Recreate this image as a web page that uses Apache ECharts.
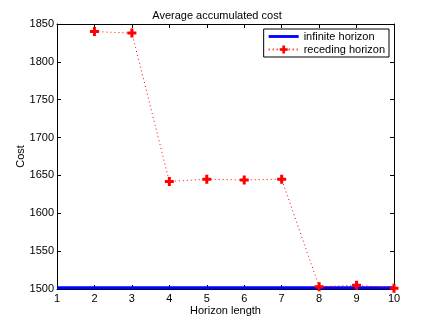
<!DOCTYPE html>
<html>
<head>
<meta charset="utf-8">
<script src="https://cdn.jsdelivr.net/npm/echarts@6/dist/echarts.min.js"></script>
<style>
  html, body { margin: 0; padding: 0; background: #fff; }
  #chart { width: 434px; height: 326px; }
</style>
</head>
<body>
<div id="chart"></div>
<script>
// horizon lengths on the x axis
var horizons = [1, 2, 3, 4, 5, 6, 7, 8, 9, 10];
// infinite horizon cost (flat)
var infiniteCost = [1501.5, 1501.5, 1501.5, 1501.5, 1501.5, 1501.5, 1501.5, 1501.5, 1501.5, 1501.5];
// receding horizon cost, starts at horizon 2
var recedingX = [2, 3, 4, 5, 6, 7, 8, 9, 10];
var recedingCost = [1840, 1838, 1642, 1645, 1644, 1645, 1503, 1505, 1501];

var font = 'Liberation Sans, Arial, sans-serif';
var plus = 'path://M-1,-3L1,-3L1,-1L3,-1L3,1L1,1L1,3L-1,3L-1,1L-3,1L-3,-1L-1,-1Z';
var thickLine = 'path://M0,0L32,0L32,3L0,3Z';

var chart = echarts.init(document.getElementById('chart'));

var axisCommon = {
  axisLine: { show: true, onZero: false, lineStyle: { color: '#000', width: 1 } },
  axisTick: { show: true, inside: true, length: 4, lineStyle: { color: '#000' } },
  splitLine: { show: false }
};

var option = {
  animation: false,
  backgroundColor: '#fff',
  title: {
    text: 'Average accumulated cost',
    left: 'center',
    top: 5,
    textStyle: { fontFamily: font, fontSize: 11, fontWeight: 'normal', color: '#000' }
  },
  grid: { left: 57, right: 40, top: 24, bottom: 37 },
  legend: {
    right: 45,
    top: 29,
    orient: 'vertical',
    itemGap: 2,
    itemWidth: 30,
    itemHeight: 10,
    padding: [2, 4, 2, 4],
    borderColor: '#000',
    borderWidth: 1,
    borderRadius: 0,
    backgroundColor: '#fff',
    textStyle: { fontFamily: font, fontSize: 11, color: '#000' },
    data: [{ name: 'infinite horizon', icon: thickLine }, { name: 'receding horizon' }]
  },
  xAxis: [
    Object.assign({
      type: 'value', min: 1, max: 10, interval: 1, position: 'bottom',
      name: 'Horizon length', nameLocation: 'middle', nameGap: 16,
      nameMoveOverlap: false,
      nameTextStyle: { fontFamily: font, fontSize: 11, color: '#000' },
      axisLabel: { fontFamily: font, fontSize: 11, color: '#000', margin: 4 }
    }, axisCommon),
    Object.assign({
      type: 'value', min: 1, max: 10, interval: 1, position: 'top',
      axisLabel: { show: false }
    }, axisCommon)
  ],
  yAxis: [
    Object.assign({
      type: 'value', min: 1500, max: 1850, interval: 50, position: 'left',
      name: 'Cost', nameLocation: 'middle', nameGap: 31,
      nameMoveOverlap: false,
      nameTextStyle: { fontFamily: font, fontSize: 11, color: '#000' },
      axisLabel: {
        fontFamily: font, fontSize: 11, color: '#000', margin: 3,
        formatter: function (v) { return String(v); }
      }
    }, axisCommon),
    Object.assign({
      type: 'value', min: 1500, max: 1850, interval: 50, position: 'right',
      axisLabel: { show: false }
    }, axisCommon)
  ],
  series: [
    {
      name: 'infinite horizon',
      type: 'line',
      data: horizons.map(function (h, i) { return [h, infiniteCost[i]]; }),
      showSymbol: false,
      symbol: 'none',
      lineStyle: { color: '#0000ff', width: 3 },
      itemStyle: { color: '#0000ff' },
      z: 2
    },
    {
      name: 'receding horizon',
      type: 'line',
      data: recedingX.map(function (h, i) { return [h, recedingCost[i]]; }),
      symbol: plus,
      symbolSize: 9,
      lineStyle: { color: '#ff0000', width: 1, type: [1, 3] },
      itemStyle: { color: '#ff0000' },
      z: 3
    }
  ]
};

chart.setOption(option);
</script>
</body>
</html>
